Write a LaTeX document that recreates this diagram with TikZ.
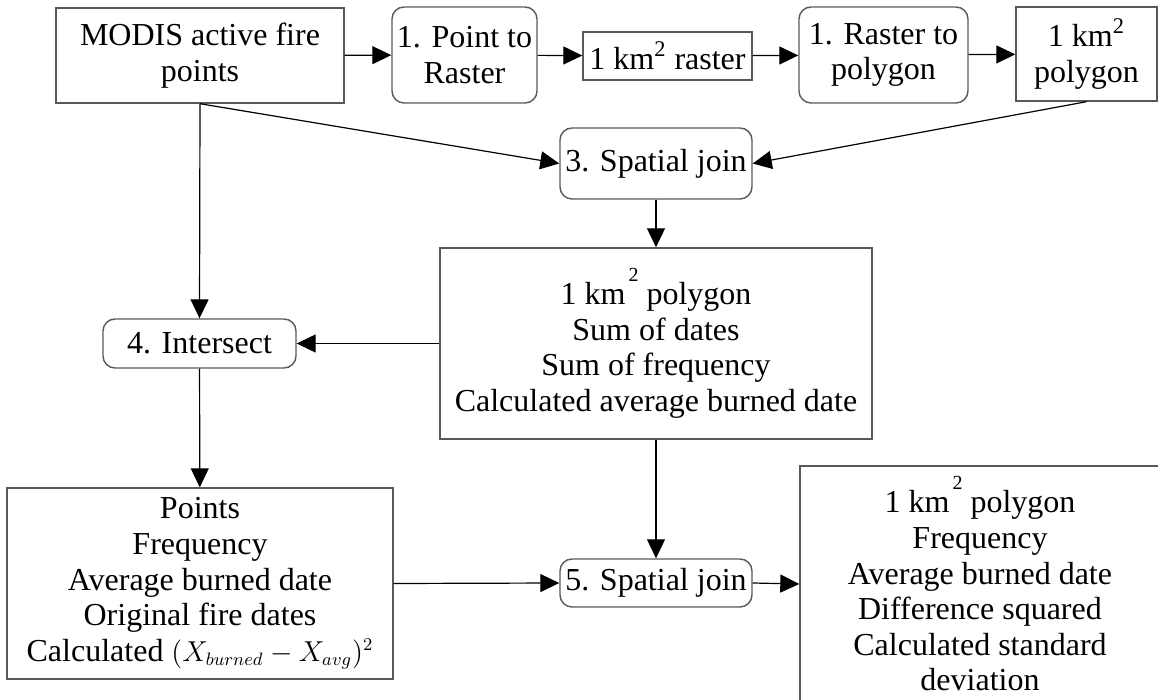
\documentclass[tikz,border=0pt]{standalone}
\usepackage{fontspec}
\setmainfont{Liberation Serif}
\usetikzlibrary{arrows.meta}
% high-set superscript used in the attribute tables
\newcommand\hisq{\kern1.5pt\raisebox{0.72em}{\fontsize{10pt}{10pt}\selectfont 2}}
\tikzset{
  box/.style={draw=black!65, line width=0.7pt, inner sep=0pt, align=center,
              font=\fontsize{16pt}{17.8pt}\selectfont},
  rbox/.style={box, rounded corners=6pt},
  link/.style={draw=black, line width=0.6pt, -{Triangle[length=9.5pt,width=9pt]}},
}
\begin{document}
\begin{tikzpicture}[x=0.5pt,y=-0.5pt]
\path[use as bounding box] (0,0) rectangle (1158,700);
\clip (0,0) rectangle (1158,700);

% top row
\node[box,  minimum width=144pt,  minimum height=47.5pt] (modis)  at (200,55.5)  {MODIS active fire\\points};
\node[rbox, minimum width=72.5pt, minimum height=48pt]   (p2r)    at (464.5,55)  {1. Point to\\Raster};
\node[box,  minimum width=84.5pt, minimum height=24pt]   (raster) at (667.5,56)  {1 km\textsuperscript{2} raster};
\node[rbox, minimum width=84.5pt, minimum height=48pt]   (r2p)    at (883.5,55)  {1. Raster to\\polygon};
\node[box,  minimum width=70.5pt, minimum height=47pt]   (poly)   at (1086.5,54) {1 km\textsuperscript{2}\\polygon};

% processing chain
\node[rbox, minimum width=96pt,   minimum height=35.5pt] (sj3)    at (656,163.5) {3. Spatial join};
\node[box,  minimum width=216pt,  minimum height=95.5pt] (big)    at (656,343.5)
  {1 km\hisq{} polygon\\Sum of dates\\Sum of frequency\\Calculated average burned date};
\node[rbox, minimum width=96.5pt, minimum height=24.5pt] (inter)  at (199.5,343.5) {4. Intersect};
\node[box,  minimum width=193pt,  minimum height=95.5pt] (pts)    at (200,583.5)
  {Points\\Frequency\\Average burned date\\Original fire dates\\Calculated
   {\fontsize{13.5pt}{15pt}\selectfont$(X_{burned}-X_{avg})^2$}};
\node[rbox, minimum width=96pt,   minimum height=24pt]   (sj5)    at (656,583)   {5. Spatial join};
\node[box,  minimum width=180pt,  minimum height=118pt]  (fin)    at (980,584)
  {1 km\hisq{} polygon\\Frequency\\Average burned date\\Difference squared\\Calculated standard\\deviation};

% connectors
\draw[link] (modis) -- (p2r);
\draw[link] (p2r) -- (raster);
\draw[link] (raster) -- (r2p);
\draw[link] (r2p) -- (poly);
\draw[link] (modis.south) -- (sj3.west);
\draw[link] (poly.south) -- (sj3.east);
\draw[link] (sj3) -- (big);
\draw[link] (modis.south) -- (inter.north);
\draw[link] (big.west) -- (inter.east);
\draw[link] (inter) -- (pts);
\draw[link] (big.south) -- (sj5.north);
\draw[link] (pts.east) -- (sj5.west);
\draw[link] (sj5.east) -- (fin.west);
\end{tikzpicture}
\end{document}
